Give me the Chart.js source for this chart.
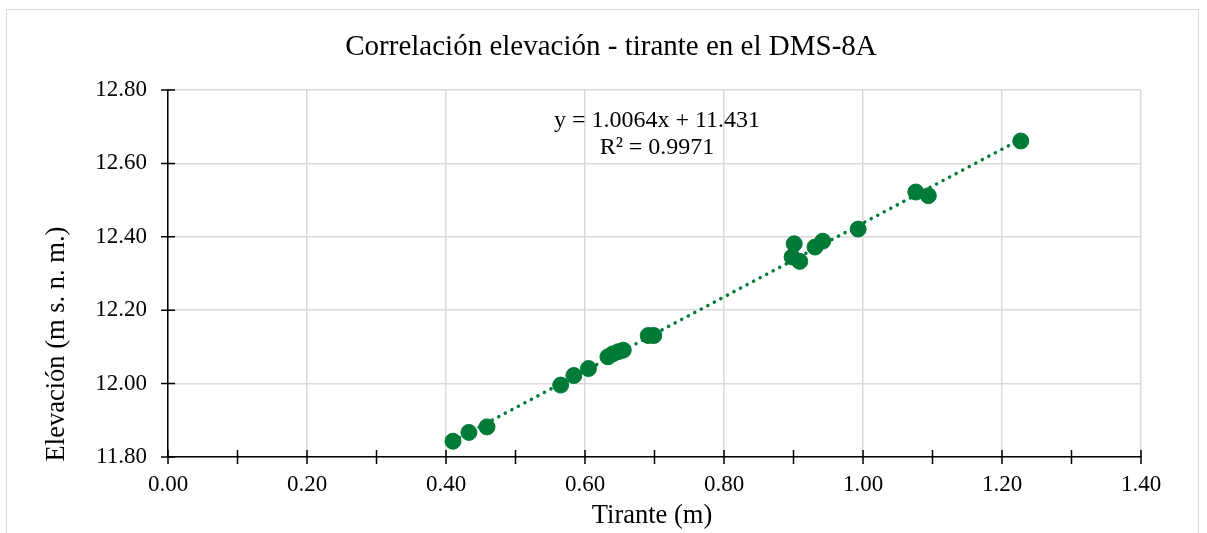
<!DOCTYPE html>
<html lang="es">
<head>
    <meta charset="UTF-8">
    <title>Correlación elevación - tirante</title>
    <script src="https://cdn.jsdelivr.net/npm/chart.js"></script>
    <style>
        html, body {
            margin: 0;
            padding: 0;
            background: #fff;
            overflow: hidden;
        }
        .frame {
            position: absolute;
            left: 6px;
            top: 9px;
            width: 1191px;
            height: 600px;
            border: 1px solid #d9d9d9;
        }
        .chart-box {
            position: absolute;
            left: 0;
            top: 0;
            width: 1207px;
            height: 533px;
        }
    </style>
</head>
<body>
    <div class="frame"></div>
    <div class="chart-box"><canvas id="chart"></canvas></div>

    <script>
        // Tirante (m) vs elevación (m s. n. m.)
        const tirante = [0.410, 0.433, 0.459, 0.565, 0.584, 0.605, 0.633, 0.640, 0.648, 0.655,
                         0.691, 0.699, 0.898, 0.901, 0.909, 0.931, 0.942, 0.993, 1.076, 1.094, 1.227];
        const elevacion = [11.843, 11.867, 11.882, 11.996, 12.022, 12.041, 12.073, 12.081, 12.087, 12.091,
                           12.131, 12.131, 12.345, 12.381, 12.333, 12.372, 12.388, 12.421, 12.522, 12.512, 12.661];

        // Línea de tendencia (de la ecuación mostrada)
        const slope = 1.0064;
        const intercept = 11.431;
        const equationLines = ["y = 1.0064x + 11.431", "R² = 0.9971"];

        const chartTitle = "Correlación elevación - tirante en el DMS-8A";
        const xTitle = "Tirante (m)";
        const yTitle = "Elevación (m s. n. m.)";

        const green = "#007a37";
        const serif = "'Liberation Serif', 'Times New Roman', serif";

        const points = tirante.map((x, i) => ({ x: x, y: elevacion[i] }));
        const xMin = Math.min(...tirante);
        const xMax = Math.max(...tirante);
        const trend = [xMin, xMax].map(x => ({ x: x, y: slope * x + intercept }));

        // title, axis titles, equation and tick marks crossing the axes
        const decorations = {
            id: "decorations",
            afterDraw(chart) {
                const ctx = chart.ctx;
                const xs = chart.scales.x;
                const ys = chart.scales.y;
                const area = chart.chartArea;
                ctx.save();

                // tick marks
                ctx.strokeStyle = "#000";
                ctx.lineWidth = 1.5;
                ctx.beginPath();
                xs.ticks.forEach((t, i) => {
                    const px = xs.getPixelForTick(i);
                    ctx.moveTo(px, area.bottom - 7);
                    ctx.lineTo(px, area.bottom + 7);
                });
                ys.ticks.forEach((t, i) => {
                    const py = ys.getPixelForTick(i);
                    ctx.moveTo(area.left - 7, py);
                    ctx.lineTo(area.left + 7, py);
                });
                ctx.stroke();

                ctx.fillStyle = "#000";
                ctx.textAlign = "center";
                ctx.textBaseline = "middle";

                ctx.font = "29px " + serif;
                ctx.fillText(chartTitle, 611, 47);

                ctx.font = "26.5px " + serif;
                ctx.fillText(xTitle, 652, 516);

                ctx.save();
                ctx.translate(57, 344);
                ctx.rotate(-Math.PI / 2);
                ctx.fillText(yTitle, 0, 0);
                ctx.restore();

                ctx.font = "24px " + serif;
                ctx.fillText(equationLines[0], 657, 121);
                ctx.fillText(equationLines[1], 657, 148);

                ctx.restore();
            }
        };

        new Chart(document.getElementById("chart"), {
            type: "scatter",
            data: {
                datasets: [
                    {
                        label: "Elevación",
                        data: points,
                        backgroundColor: green,
                        borderColor: green,
                        pointRadius: 8,
                        pointHoverRadius: 8,
                        order: 1
                    },
                    {
                        label: "Tendencia",
                        type: "line",
                        data: trend,
                        borderColor: green,
                        borderWidth: 3.5,
                        borderDash: [0.1, 7.3],
                        borderCapStyle: "round",
                        pointRadius: 0,
                        fill: false,
                        order: 2
                    }
                ]
            },
            options: {
                responsive: true,
                maintainAspectRatio: false,
                animation: false,
                layout: {
                    padding: { top: 90, right: 66, left: 0, bottom: 0 }
                },
                plugins: {
                    legend: { display: false },
                    title: { display: false },
                    tooltip: { enabled: false }
                },
                scales: {
                    x: {
                        type: "linear",
                        min: 0,
                        max: 1.4,
                        afterFit: scale => { scale.height = 76; },
                        border: { color: "#000", width: 1.5 },
                        grid: {
                            drawTicks: false,
                            color: ctx => {
                                const v = Math.round(ctx.tick.value * 10);
                                return v % 2 === 0 ? "#d9d9d9" : "rgba(0,0,0,0)";
                            },
                            lineWidth: 1.5
                        },
                        ticks: {
                            stepSize: 0.1,
                            autoSkip: false,
                            maxRotation: 0,
                            padding: 14,
                            color: "#000",
                            font: { family: serif, size: 23 },
                            callback: v => Math.round(v * 10) % 2 === 0 ? v.toFixed(2) : ""
                        }
                    },
                    y: {
                        min: 11.8,
                        max: 12.8,
                        afterFit: scale => { scale.width = 168; },
                        border: { color: "#000", width: 1.5 },
                        grid: {
                            drawTicks: false,
                            color: "#d9d9d9",
                            lineWidth: 1.5
                        },
                        ticks: {
                            stepSize: 0.2,
                            autoSkip: false,
                            padding: 21,
                            color: "#000",
                            font: { family: serif, size: 23 },
                            callback: v => v.toFixed(2)
                        }
                    }
                }
            },
            plugins: [decorations]
        });
    </script>
</body>
</html>
